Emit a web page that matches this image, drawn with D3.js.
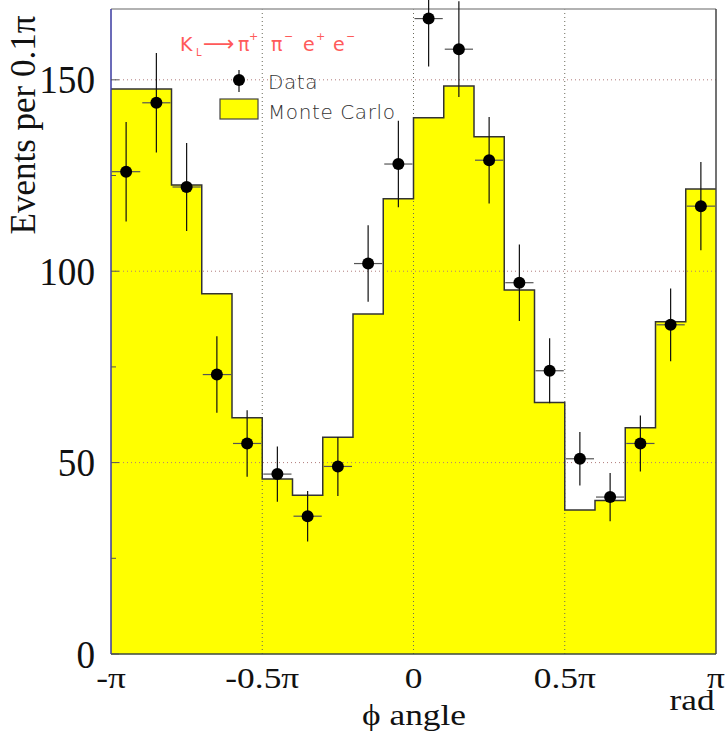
<!DOCTYPE html>
<html>
<head>
<meta charset="utf-8">
<script src="https://cdn.jsdelivr.net/npm/d3@7"></script>
<style>
  body { margin: 0; background: #fff; }
  svg { display: block; }
</style>
</head>
<body>
<script>
// phi angle distribution, K_L -> pi+ pi- e+ e-
// bin edges go from -pi to pi in steps of 0.1 pi (20 bins)
var binLow = [-1.0, -0.9, -0.8, -0.7, -0.6, -0.5, -0.4, -0.3, -0.2, -0.1,
               0.0,  0.1,  0.2,  0.3,  0.4,  0.5,  0.6,  0.7,  0.8,  0.9];
// Monte Carlo histogram (events per 0.1 pi)
var mcCounts = [147.6, 147.6, 122.5, 94.1, 61.7, 45.7, 41.5, 56.6, 88.8, 118.9,
                140.1, 148.4, 135.1, 95.1, 65.7, 37.6, 40.1, 59.1, 86.8, 121.5];
// Data points and their error bars
var dataCounts = [126, 144, 122, 73, 55, 47, 36, 49, 102, 128,
                  166, 158, 129, 97, 74, 51, 41, 55, 86, 117];
var dataErrors = [13, 13, 11.5, 10, 8.7, 7.2, 6.6, 7.7, 10, 11.3,
                  12.5, 12.5, 11.3, 10, 8.5, 7, 6.3, 7.3, 9.5, 11.5];
// axis ticks
var xTickVals = [-1, -0.5, 0, 0.5, 1];
var xTickLabels = ["-\u03c0", "-0.5\u03c0", "0", "0.5\u03c0", "\u03c0"];
var yMajor = [0, 50, 100, 150];
var yMinor = [25, 75, 125];

var width = 726, height = 734;
// (window.top is read-only, so no plain "top" here)
var padL = 111, padR = 716, padT = 9, padB = 654;

var svg = d3.select("body").append("svg")
  .attr("width", width)
  .attr("height", height);

// x in units of pi
var x = d3.scaleLinear().domain([-1, 1]).range([padL, padR]);
var y = d3.scaleLinear().domain([0, 168.5]).range([padB, padT]);

var serif = "'Liberation Serif', 'Times New Roman', serif";
var sans = "'DejaVu Sans', sans-serif";

// text with a stretch, the scanned plot has squashed/stretched glyphs
function stretchText(g, str, px, py, size, sx, sy, anchor){
  return g.append("text")
    .attr("transform", "translate(" + px + "," + py + ") scale(" + sx + "," + sy + ")")
    .attr("text-anchor", anchor || "middle")
    .style("font-family", serif)
    .style("font-size", size + "px")
    .attr("fill", "#111")
    .text(str);
}

// Monte Carlo histogram as a step area
var mcBins = binLow.map(function(b, i){ return {x0: b, x1: b + 0.1, v: mcCounts[i]}; });
var stepPts = [];
mcBins.forEach(function(d){
  stepPts.push([d.x0, d.v]);
  stepPts.push([d.x1, d.v]);
});
var area = d3.area()
  .x(function(d){ return x(d[0]); })
  .y0(y(0))
  .y1(function(d){ return y(d[1]); });
svg.append("path")
  .datum(stepPts)
  .attr("d", area)
  .attr("fill", "#ffff00");

// grid (dotted)
var grid = svg.append("g");
grid.selectAll(".gx")
  .data([-0.5, 0, 0.5])
  .enter().append("line")
  .attr("x1", function(d){ return x(d); })
  .attr("x2", function(d){ return x(d); })
  .attr("y1", padT).attr("y2", padB)
  .attr("stroke", "#6a6a5a")
  .attr("stroke-width", 1)
  .attr("stroke-dasharray", "1,3");
grid.selectAll(".gy")
  .data([50, 100, 150])
  .enter().append("line")
  .attr("x1", padL).attr("x2", padR)
  .attr("y1", function(d){ return y(d); })
  .attr("y2", function(d){ return y(d); })
  .attr("stroke", "#b07a7a")
  .attr("stroke-width", 1)
  .attr("stroke-dasharray", "1,3");

// histogram outline
var line = d3.line()
  .x(function(d){ return x(d[0]); })
  .y(function(d){ return y(d[1]); });
svg.append("path")
  .datum(stepPts)
  .attr("d", line)
  .attr("fill", "none")
  .attr("stroke", "#333")
  .attr("stroke-width", 1.5);

// frame
svg.append("line").attr("x1", padL).attr("x2", padR).attr("y1", padT).attr("y2", padT)
  .attr("stroke", "#999").attr("stroke-width", 1.5);
svg.append("line").attr("x1", padR).attr("x2", padR).attr("y1", padT).attr("y2", padB)
  .attr("stroke", "#444").attr("stroke-width", 1.5);
svg.append("line").attr("x1", padL).attr("x2", padR).attr("y1", padB).attr("y2", padB)
  .attr("stroke", "#3c4a3c").attr("stroke-width", 1.5);
svg.append("line").attr("x1", padL).attr("x2", padL).attr("y1", padT).attr("y2", padB)
  .attr("stroke", "#3a3aa0").attr("stroke-width", 1.5);

// y ticks, inside the frame
svg.selectAll(".ymaj")
  .data(yMajor)
  .enter().append("line")
  .attr("x1", padL).attr("x2", padL + 8)
  .attr("y1", function(d){ return y(d); })
  .attr("y2", function(d){ return y(d); })
  .attr("stroke", "#555");
svg.selectAll(".ymin")
  .data(yMinor)
  .enter().append("line")
  .attr("x1", padL).attr("x2", padL + 5)
  .attr("y1", function(d){ return y(d); })
  .attr("y2", function(d){ return y(d); })
  .attr("stroke", "#555");

// data points with error bars
var binW = x(0.1) - x(0);
var pts = svg.selectAll(".pt")
  .data(dataCounts.map(function(v, i){ return {c: binLow[i] + 0.05, v: v, e: dataErrors[i]}; }))
  .enter().append("g")
  .attr("class", "pt");
pts.append("line")
  .attr("x1", function(d){ return x(d.c) - binW / 2 + 1; })
  .attr("x2", function(d){ return x(d.c) + binW / 2 - 1; })
  .attr("y1", function(d){ return y(d.v); })
  .attr("y2", function(d){ return y(d.v); })
  .attr("stroke", "#555")
  .attr("stroke-width", 1.2);
pts.append("line")
  .attr("x1", function(d){ return x(d.c); })
  .attr("x2", function(d){ return x(d.c); })
  .attr("y1", function(d){ return y(d.v + d.e); })
  .attr("y2", function(d){ return y(d.v - d.e); })
  .attr("stroke", "#111")
  .attr("stroke-width", 1.2);
pts.append("circle")
  .attr("cx", function(d){ return x(d.c); })
  .attr("cy", function(d){ return y(d.v); })
  .attr("r", 6)
  .attr("fill", "#000");

// y tick labels
yMajor.forEach(function(v){
  stretchText(svg, String(v), 95, y(v) + 13.5, 40, 0.93, 1, "end");
});
// x tick labels
xTickVals.forEach(function(v, i){
  stretchText(svg, xTickLabels[i], x(v), 688, 29, 1.22, 1, "middle");
});
// axis titles
stretchText(svg, "\u03d5 angle", 414, 725, 29, 1.22, 1, "middle");
stretchText(svg, "rad", 692, 710, 29, 1.22, 1, "middle");
svg.append("text")
  .attr("transform", "translate(35,125) rotate(-90)")
  .attr("text-anchor", "middle")
  .style("font-family", serif)
  .style("font-size", "35px")
  .attr("fill", "#111")
  .text("Events per 0.1\u03c0");

// legend
var leg = svg.append("g");
var red = "#ff5a5a";
function redText(str, px, py, size){
  leg.append("text").attr("x", px).attr("y", py)
    .style("font-family", sans).style("font-size", size + "px")
    .attr("fill", red).text(str);
}
redText("K", 180, 51, 19);
redText("L", 196, 56, 10);
redText("\u27f6", 203, 51, 22);
redText("\u03c0", 238, 51, 19);
redText("+", 249, 40, 11);
redText("\u03c0", 271, 51, 19);
redText("\u2212", 284, 40, 11);
redText("e", 303, 51, 19);
redText("+", 316, 40, 11);
redText("e", 333, 51, 19);
redText("\u2212", 346, 40, 11);

leg.append("line").attr("x1", 239).attr("x2", 239).attr("y1", 70).attr("y2", 92)
  .attr("stroke", "#111").attr("stroke-width", 1.2);
leg.append("circle").attr("cx", 239).attr("cy", 80).attr("r", 6).attr("fill", "#000");
leg.append("text").attr("x", 268).attr("y", 89)
  .style("font-family", sans).style("font-size", "20px").style("font-weight", 300)
  .style("letter-spacing", "0.6px")
  .attr("fill", "#333").text("Data");
leg.append("rect").attr("x", 220).attr("y", 99).attr("width", 38).attr("height", 20)
  .attr("fill", "#ffff00").attr("stroke", "#444").attr("stroke-width", 1.2);
leg.append("text").attr("x", 268).attr("y", 119)
  .style("font-family", sans).style("font-size", "20px").style("font-weight", 300)
  .style("letter-spacing", "0.6px")
  .attr("fill", "#333").text("Monte Carlo");
</script>
</body>
</html>
